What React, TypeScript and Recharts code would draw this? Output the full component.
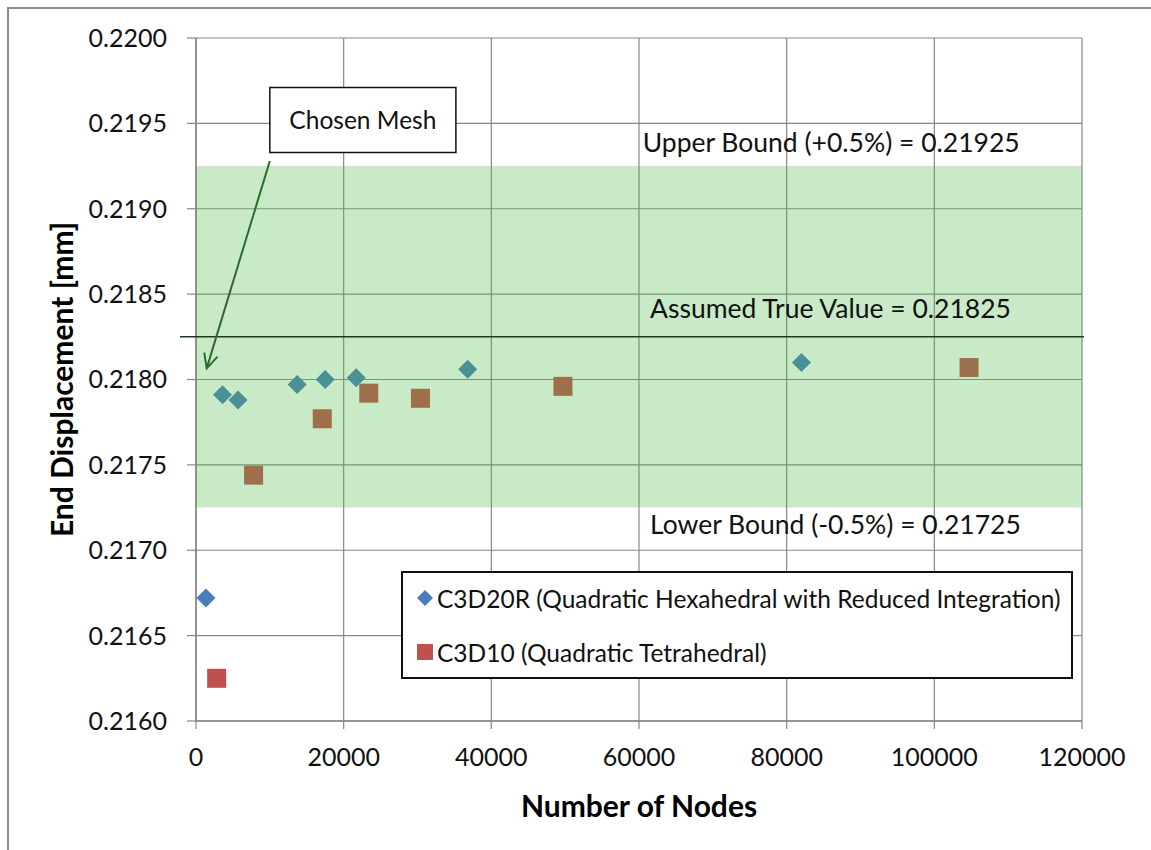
import React from "react";
import {
  ScatterChart,
  Scatter,
  XAxis,
  YAxis,
  CartesianGrid,
  ReferenceArea,
  ReferenceLine,
  ReferenceDot,
  Legend,
} from "recharts";

// mesh convergence study: nodes vs. tip displacement
const hexNodes = [1350, 3600, 5700, 13700, 17500, 21700, 36800, 82000];
const hexDisp = [0.21672, 0.21791, 0.21788, 0.21797, 0.218, 0.21801, 0.21806, 0.2181];

const tetNodes = [2800, 7800, 17100, 23400, 30400, 49700, 104700];
const tetDisp = [0.21625, 0.21744, 0.21777, 0.21792, 0.21789, 0.21796, 0.21807];

const xTicks = [0, 20000, 40000, 60000, 80000, 100000, 120000];
const yTicks = [0.216, 0.2165, 0.217, 0.2175, 0.218, 0.2185, 0.219, 0.2195, 0.22];

const trueValue = 0.21825;
const upperBound = 0.21925;
const lowerBound = 0.21725;

const hexName = "C3D20R (Quadratic Hexahedral with Reduced Integration)";
const tetName = "C3D10 (Quadratic Tetrahedral)";

const FONT = "Lato, 'Noto Sans', sans-serif";
const GRID = "#878787";
const HEX_COLOR = "#4a7ebb";
const TET_COLOR = "#c0504d";
const BAND = "#4cbb47";
const ARROW = "#2b6b2b";

const hexData = hexNodes.map((x, i) => ({ x, y: hexDisp[i] }));
const tetData = tetNodes.map((x, i) => ({ x, y: tetDisp[i] }));

const Diamond = (p: any) => {
  const r = 9.5;
  const { cx, cy } = p;
  return (
    <polygon
      points={`${cx},${cy - r} ${cx + r},${cy} ${cx},${cy + r} ${cx - r},${cy}`}
      fill={HEX_COLOR}
    />
  );
};

const Square = (p: any) => {
  const h = 9.5;
  return <rect x={p.cx - h} y={p.cy - h} width={2 * h} height={2 * h} fill={TET_COLOR} />;
};

// annotation text anchored at a data point
const noteText = (text: string) => (p: any) => (
  <text x={p.cx} y={p.cy} dominantBaseline="central" fontSize={26.5} fontFamily={FONT} fill="#111">
    {text}
  </text>
);

// leader arrow with an open head at the end point
const Arrow = (p: any) => {
  const { x1, y1, x2, y2 } = p;
  const a = Math.atan2(y2 - y1, x2 - x1);
  const len = 16;
  const spread = 0.45;
  const h1x = x2 - len * Math.cos(a - spread);
  const h1y = y2 - len * Math.sin(a - spread);
  const h2x = x2 - len * Math.cos(a + spread);
  const h2y = y2 - len * Math.sin(a + spread);
  return (
    <g stroke={ARROW} strokeWidth={2} fill="none">
      <line x1={x1} y1={y1} x2={x2} y2={y2} />
      <polyline points={`${h1x},${h1y} ${x2},${y2} ${h2x},${h2y}`} />
    </g>
  );
};

const TrueLine = (p: any) => (
  <line x1={p.x1 - 16} y1={p.y1} x2={p.x2 + 2} y2={p.y2} stroke="#1e3a1e" strokeWidth={1.5} />
);

const YTitle = (p: any) => {
  const vb = p.viewBox;
  const cx = vb.x + 15;
  const cy = vb.y + vb.height / 2;
  return (
    <text
      x={cx}
      y={cy}
      transform={`rotate(-90, ${cx}, ${cy})`}
      textAnchor="middle"
      dominantBaseline="central"
      fontSize={30}
      fontWeight="bold"
      fontFamily={FONT}
      fill="#000"
    >
      End Displacement [mm]
    </text>
  );
};

const XTitle = (p: any) => {
  const vb = p.viewBox;
  return (
    <text
      x={vb.x + vb.width / 2}
      y={vb.y + 84}
      textAnchor="middle"
      dominantBaseline="central"
      fontSize={30}
      fontWeight="bold"
      fontFamily={FONT}
      fill="#000"
    >
      Number of Nodes
    </text>
  );
};

const LegendBox = () => (
  <div
    style={{
      position: "relative",
      width: 672,
      height: 108,
      boxSizing: "border-box",
      border: "2px solid #111",
      background: "#fff",
      fontFamily: FONT,
      fontSize: 24.5,
      color: "#111",
    }}
  >
    <svg width={20} height={20} style={{ position: "absolute", left: 12, top: 15 }}>
      <polygon points="10,2 18,10 10,18 2,10" fill={HEX_COLOR} />
    </svg>
    <div style={{ position: "absolute", left: 34, top: 25, transform: "translateY(-50%)", whiteSpace: "nowrap" }}>
      {hexName}
    </div>
    <svg width={20} height={20} style={{ position: "absolute", left: 12, top: 69 }}>
      <rect x={2} y={2} width={16} height={16} fill={TET_COLOR} />
    </svg>
    <div style={{ position: "absolute", left: 34, top: 79, transform: "translateY(-50%)", whiteSpace: "nowrap" }}>
      {tetName}
    </div>
  </div>
);

export default function App() {
  return (
    <div style={{ position: "absolute", left: 0, top: 0, width: 1151, height: 850, overflow: "hidden", background: "#fff" }}>
      <div
        style={{
          position: "absolute",
          left: 7,
          top: 7,
          width: 1160,
          height: 860,
          border: "2px solid #8c8c8c",
        }}
      />
      <ScatterChart width={1151} height={850} margin={{ top: 38, right: 69, bottom: 49, left: 46 }}>
        <CartesianGrid stroke={GRID} strokeWidth={1.2} />
        <XAxis
          type="number"
          dataKey="x"
          domain={[0, 120000]}
          ticks={xTicks}
          interval={0}
          height={80}
          axisLine={{ stroke: GRID, strokeWidth: 1.5 }}
          tickLine={{ stroke: GRID, strokeWidth: 1.2 }}
          tickSize={8}
          tickMargin={19}
          tick={{ fill: "#111", fontSize: 25, fontFamily: FONT }}
          label={XTitle}
        />
        <YAxis
          type="number"
          dataKey="y"
          domain={[0.216, 0.22]}
          ticks={yTicks}
          interval={0}
          width={150}
          axisLine={{ stroke: GRID, strokeWidth: 1.5 }}
          tickLine={{ stroke: GRID, strokeWidth: 1.2 }}
          tickSize={9}
          tickMargin={20}
          tick={{ fill: "#111", fontSize: 25, fontFamily: FONT }}
          tickFormatter={(v: number) => v.toFixed(4)}
          label={YTitle}
        />
        <Scatter name={hexName} data={hexData} fill={HEX_COLOR} shape={Diamond} isAnimationActive={false} />
        <Scatter name={tetName} data={tetData} fill={TET_COLOR} shape={Square} isAnimationActive={false} />
        <ReferenceArea
          x1={0}
          x2={120000}
          y1={lowerBound}
          y2={upperBound}
          fill={BAND}
          fillOpacity={0.3}
          stroke="none"
          zIndex={700}
        />
        <ReferenceLine y={trueValue} shape={TrueLine} zIndex={710} />
        <ReferenceArea
          x1={10000}
          x2={35200}
          y1={0.21933}
          y2={0.21971}
          fill="#fff"
          fillOpacity={1}
          stroke="#111"
          strokeWidth={1.5}
          zIndex={720}
          label={{ value: "Chosen Mesh", position: "center", fill: "#111", fontSize: 24.5, fontFamily: FONT }}
        />
        <ReferenceLine
          segment={[
            { x: 10000, y: 0.21928 },
            { x: 1450, y: 0.218065 },
          ]}
          shape={Arrow}
          zIndex={720}
        />
        <ReferenceDot x={60500} y={0.21939} r={0} shape={noteText("Upper Bound (+0.5%) = 0.21925")} zIndex={720} />
        <ReferenceDot x={61500} y={0.218416} r={0} shape={noteText("Assumed True Value = 0.21825")} zIndex={720} />
        <ReferenceDot x={61500} y={0.217155} r={0} shape={noteText("Lower Bound (-0.5%) = 0.21725")} zIndex={720} />
        <Legend
          layout="horizontal"
          verticalAlign="middle"
          align="center"
          content={LegendBox}
          wrapperStyle={{ position: "absolute", left: 401, top: 571, width: 672, height: 108 }}
        />
      </ScatterChart>
    </div>
  );
}
